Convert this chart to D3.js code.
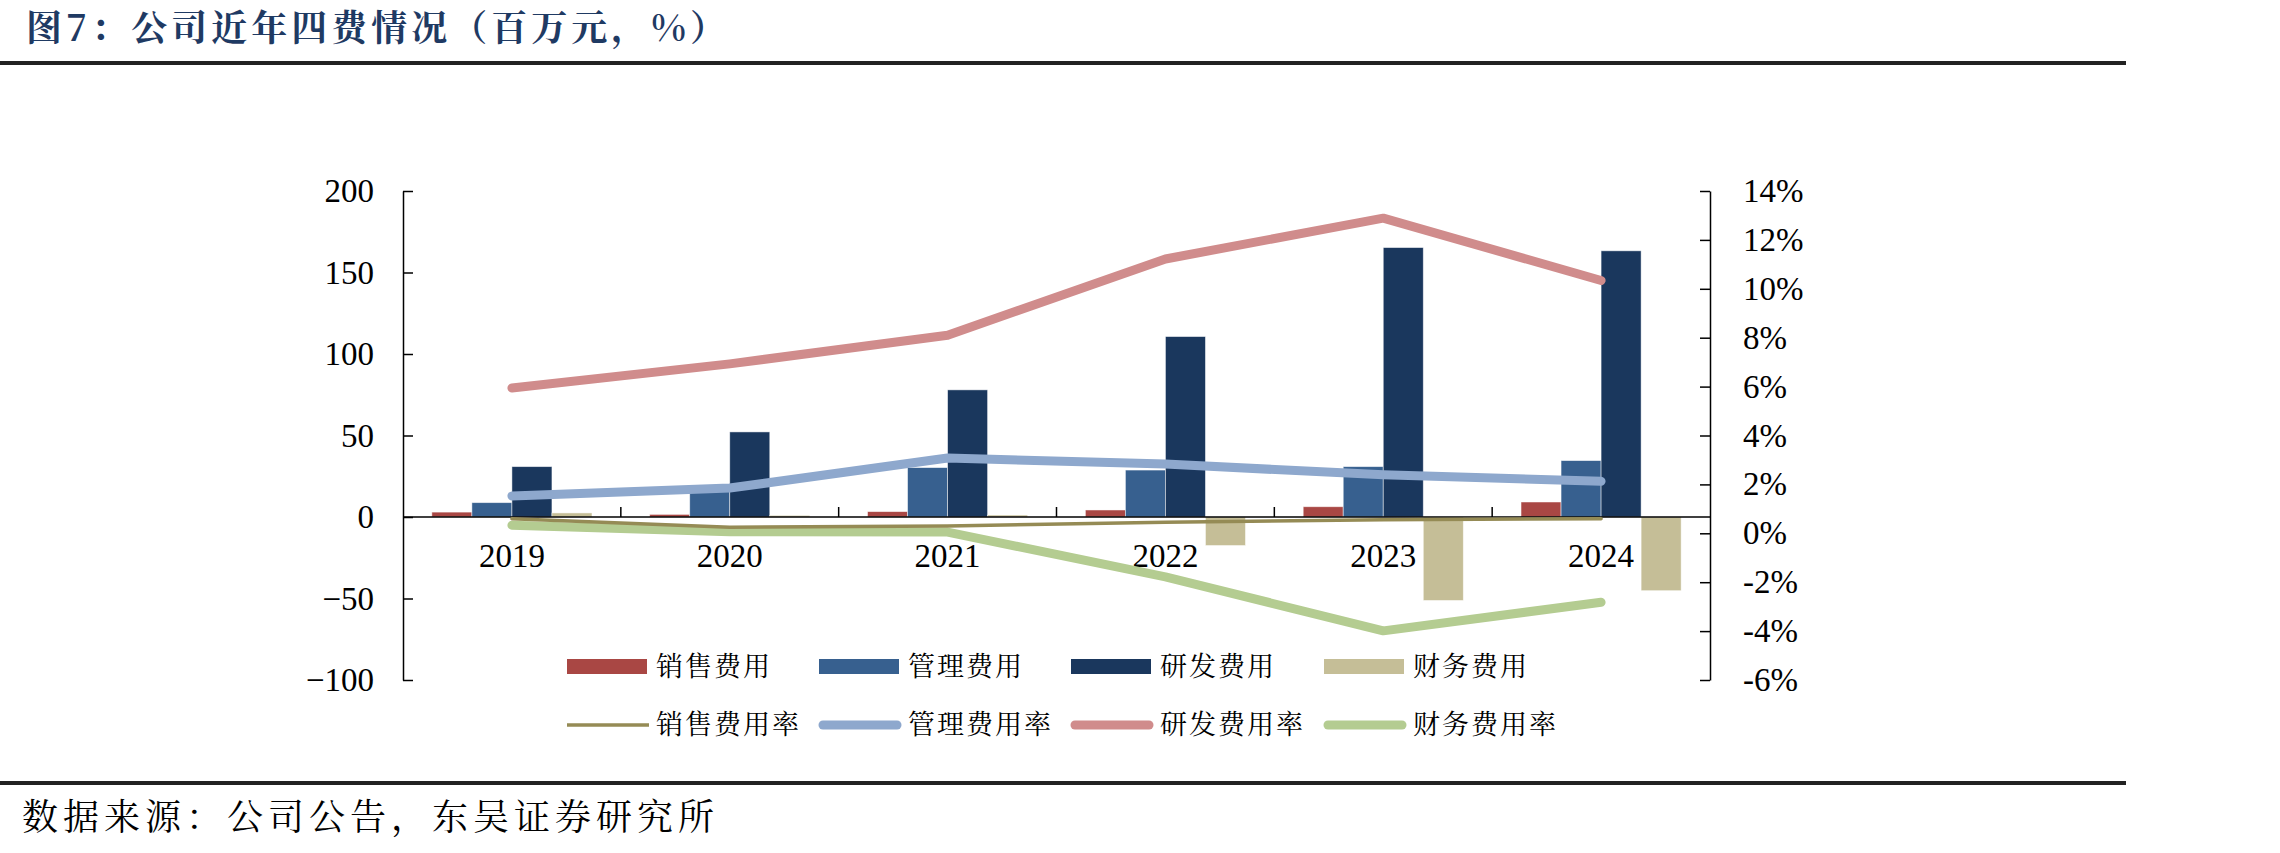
<!DOCTYPE html>
<html>
<head>
<meta charset="utf-8">
<script src="https://cdn.jsdelivr.net/npm/d3@7/dist/d3.min.js"></script>
<style>
  body { margin: 0; background: #fff; }
  svg { display: block; }
</style>
</head>
<body>
<script>
// chart data (百万元 / %)
var years = ["2019", "2020", "2021", "2022", "2023", "2024"];
var salesFee = [3.0, 1.6, 3.3, 4.3, 6.3, 9.2];
var adminFee = [8.8, 17, 30.3, 28.8, 30.9, 34.6];
var rndFee = [30.9, 52.2, 78.0, 110.7, 165.3, 163.3];
var finFee = [2.5, 1.0, 1.2, -17.5, -51.2, -45.2];

var salesRate = [0.6, 0.25, 0.3, 0.45, 0.55, 0.6];
var adminRate = [1.53, 1.85, 3.08, 2.83, 2.39, 2.13];
var rndRate = [5.94, 6.93, 8.10, 11.22, 12.89, 10.34];
var finRate = [0.33, 0.06, 0.05, -1.78, -3.99, -2.82];

var leftTicks = [-100, -50, 0, 50, 100, 150, 200];
var rightTicks = [-6, -4, -2, 0, 2, 4, 6, 8, 10, 12, 14];

var barNames = ["销售费用", "管理费用", "研发费用", "财务费用"];
var lineNames = ["销售费用率", "管理费用率", "研发费用率", "财务费用率"];

var w = 2280;
var h = 853;
// note: "top" is taken by window.top, so plot* names
var plotLeft = 403, plotRight = 1710, plotTop = 191, plotBottom = 680;
var numFont = "'Liberation Serif', 'Times New Roman', serif";
var cjkFont = "'Noto Serif CJK SC', 'Noto Sans CJK SC', sans-serif";

var barColors = ["#A94744", "#37608F", "#1A375D", "#C5BE97"];
var lineColors = ["#958B55", "#8EA8CD", "#D08C8C", "#B4CC91"];
var lineWidths = [3.5, 9, 9, 9];

var svg = d3.select("body")
  .append("svg")
  .attr("width", w)
  .attr("height", h);

// title + rules
svg.append("text")
  .attr("x", 26).attr("y", 41)
  .attr("font-family", cjkFont)
  .attr("font-size", 36)
  .attr("font-weight", "bold")
  .attr("letter-spacing", 4)
  .attr("fill", "#1F3A63")
  .text("图7：公司近年四费情况（百万元，%）");

svg.append("rect").attr("x", 0).attr("y", 61).attr("width", 2126).attr("height", 4).attr("fill", "#222");
svg.append("rect").attr("x", 0).attr("y", 781).attr("width", 2126).attr("height", 4).attr("fill", "#222");

svg.append("text")
  .attr("x", 22).attr("y", 830)
  .attr("font-family", cjkFont)
  .attr("font-size", 36)
  .attr("letter-spacing", 5)
  .attr("fill", "#000")
  .text("数据来源：公司公告，东吴证券研究所");

// scales
var x = d3.scaleBand().domain(years).range([plotLeft, plotRight]);
var groupW = x.bandwidth() * 0.735;
var xSub = d3.scaleBand().domain(d3.range(4))
  .range([(x.bandwidth() - groupW) / 2, (x.bandwidth() + groupW) / 2]);
var yL = d3.scaleLinear().domain([-100, 200]).range([plotBottom, plotTop]);
var yR = d3.scaleLinear().domain([-6, 14]).range([plotBottom, plotTop]);

// bars
var barSeries = [salesFee, adminFee, rndFee, finFee];
barSeries.forEach(function(vals, k) {
  svg.append("g").selectAll("rect")
    .data(vals)
    .enter()
    .append("rect")
    .attr("x", function(d, i) { return x(years[i]) + xSub(k); })
    .attr("width", xSub.bandwidth())
    .attr("y", function(d) { return yL(Math.max(0, d)); })
    .attr("height", function(d) { return Math.abs(yL(d) - yL(0)); })
    .attr("fill", barColors[k])
    .attr("stroke", "#fff")
    .attr("stroke-opacity", 0.6)
    .attr("stroke-width", 0.8);
});

// category axis along zero
var zeroY = yL(0);
svg.append("line")
  .attr("x1", plotLeft).attr("x2", plotRight)
  .attr("y1", zeroY).attr("y2", zeroY)
  .attr("stroke", "#000").attr("stroke-width", 1.5);

svg.append("g").selectAll("line")
  .data(years.slice(1))
  .enter()
  .append("line")
  .attr("x1", function(d) { return x(d); })
  .attr("x2", function(d) { return x(d); })
  .attr("y1", zeroY).attr("y2", zeroY - 10)
  .attr("stroke", "#000").attr("stroke-width", 1.5);

svg.append("g").selectAll("text")
  .data(years)
  .enter()
  .append("text")
  .attr("x", function(d) { return x(d) + x.bandwidth() / 2; })
  .attr("y", zeroY + 50)
  .attr("text-anchor", "middle")
  .attr("font-family", numFont)
  .attr("font-size", 33)
  .text(function(d) { return d; });

// lines on the right axis, green drawn first so the thin one sits above
var lineSeries = [salesRate, adminRate, rndRate, finRate];
var drawOrder = [3, 0, 1, 2];
var line = d3.line()
  .x(function(d, i) { return x(years[i]) + x.bandwidth() / 2; })
  .y(function(d) { return yR(d); });

drawOrder.forEach(function(k) {
  svg.append("path")
    .datum(lineSeries[k])
    .attr("d", line)
    .attr("fill", "none")
    .attr("stroke", lineColors[k])
    .attr("stroke-width", lineWidths[k])
    .attr("stroke-linecap", "round")
    .attr("stroke-linejoin", "round");
});

// axes
var axisL = svg.append("g")
  .attr("transform", "translate(" + plotLeft + ",0)")
  .call(d3.axisLeft(yL).tickValues(leftTicks).tickSize(-10).tickSizeOuter(0).tickPadding(29));

var axisR = svg.append("g")
  .attr("transform", "translate(" + plotRight + ",0)")
  .call(d3.axisRight(yR).tickValues(rightTicks).tickSize(-10).tickSizeOuter(0).tickPadding(33)
    .tickFormat(function(d) { return d + "%"; }));

[axisL, axisR].forEach(function(ax) {
  ax.select(".domain").attr("stroke", "#000").attr("stroke-width", 1.5);
  ax.selectAll(".tick line").attr("stroke", "#000").attr("stroke-width", 1.5);
  ax.selectAll(".tick text")
    .attr("font-family", numFont)
    .attr("font-size", 33)
    .attr("fill", "#000");
});

// legend
var colX = [567, 819, 1071, 1324];
var leg = svg.append("g");
barNames.forEach(function(name, k) {
  leg.append("rect")
    .attr("x", colX[k]).attr("y", 659)
    .attr("width", 80).attr("height", 15)
    .attr("fill", barColors[k]);
  leg.append("text")
    .attr("x", colX[k] + 89).attr("y", 667)
    .attr("dy", "0.35em")
    .attr("font-family", cjkFont)
    .attr("font-size", 27)
    .attr("letter-spacing", 2)
    .text(name);
});
lineNames.forEach(function(name, k) {
  var inset = k === 0 ? 0 : 4;
  leg.append("line")
    .attr("x1", colX[k] + inset).attr("x2", colX[k] + 82 - inset)
    .attr("y1", 725).attr("y2", 725)
    .attr("stroke", lineColors[k])
    .attr("stroke-width", lineWidths[k])
    .attr("stroke-linecap", k === 0 ? "butt" : "round");
  leg.append("text")
    .attr("x", colX[k] + 89).attr("y", 725)
    .attr("dy", "0.35em")
    .attr("font-family", cjkFont)
    .attr("font-size", 27)
    .attr("letter-spacing", 2)
    .text(name);
});
</script>
</body>
</html>
